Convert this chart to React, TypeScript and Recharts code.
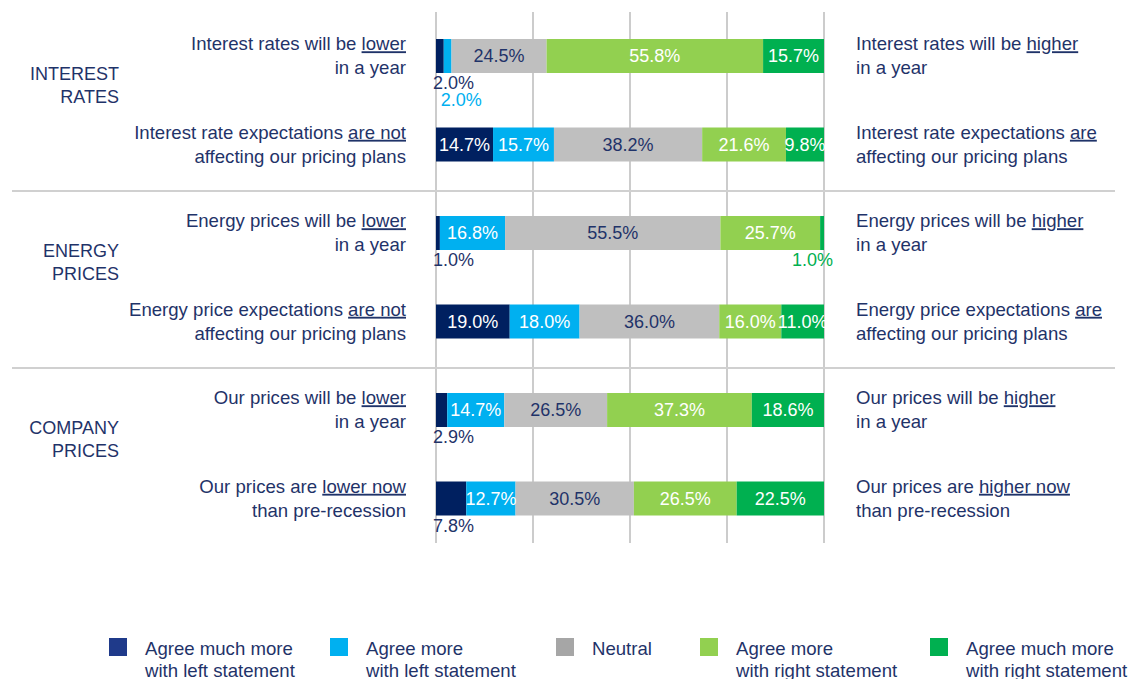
import { Bar, BarChart, CartesianGrid, LabelList, XAxis, YAxis } from "recharts";

const navyText = "#1f3369";

const rowKeys = ["ir1", "ir2", "en1", "en2", "co1", "co2"];
const rowGroup = [0, 0, 1, 1, 2, 2];
const groupNames = [
    ["INTEREST", "RATES"],
    ["ENERGY", "PRICES"],
    ["COMPANY", "PRICES"],
];

const leftLead = [
    "Interest rates will be ",
    "Interest rate expectations ",
    "Energy prices will be ",
    "Energy price expectations ",
    "Our prices will be ",
    "Our prices are ",
];
const leftKey = ["lower", "are not", "lower", "are not", "lower", "lower now"];
const rightKey = ["higher", "are", "higher", "are", "higher", "higher now"];
const statementTail = [
    "in a year",
    "affecting our pricing plans",
    "in a year",
    "affecting our pricing plans",
    "in a year",
    "than pre-recession",
];

// shares of respondents, %
const muchLeft = [2.0, 14.7, 1.0, 19.0, 2.9, 7.8];
const moreLeft = [2.0, 15.7, 16.8, 18.0, 14.7, 12.7];
const neutral = [24.5, 38.2, 55.5, 36.0, 26.5, 30.5];
const moreRight = [55.8, 21.6, 25.7, 16.0, 37.3, 26.5];
const muchRight = [15.7, 9.8, 1.0, 11.0, 18.6, 22.5];

const seriesKeys = ["muchLeft", "moreLeft", "neutral", "moreRight", "muchRight"];
const seriesNames = [
    ["Agree much more", "with left statement"],
    ["Agree more", "with left statement"],
    ["Neutral"],
    ["Agree more", "with right statement"],
    ["Agree much more", "with right statement"],
];
const seriesColors = ["#002060", "#00b0f0", "#bfbfbf", "#92d050", "#00b050"];
const swatchColors = ["#1f3a8a", "#00b0f0", "#a6a6a6", "#92d050", "#00b050"];
const insideText = ["#ffffff", "#ffffff", navyText, "#ffffff", "#ffffff"];
const outsideText = [navyText, "#00b0f0", navyText, "#92d050", "#00b050"];
const legendLeft = [109, 330, 556, 700, 930];

const tableRows = rowKeys.map((key, i) => ({
    key,
    muchLeft: muchLeft[i],
    moreLeft: moreLeft[i],
    neutral: neutral[i],
    moreRight: moreRight[i],
    muchRight: muchRight[i],
}));
const seriesValues = [muchLeft, moreLeft, neutral, moreRight, muchRight];

const W = 1131;
const H = 679;
const M = { top: 12, right: 6, bottom: 136, left: 6 };
const band = (H - M.top - M.bottom) / rowKeys.length;
const FS = 18;
const FS_TEXT = 18.6;
const SMALL = 9;
const font = "Liberation Sans, Arial, sans-serif";

const LeftTick = (props: any) => {
    const { x, y, index } = props;
    const i = index as number;
    const g = rowGroup[i];
    const firstOfGroup = i === 0 || rowGroup[i - 1] !== g;
    const groupMid = y + band / 2 - 15;
    return (
        <g fontFamily={font} fontSize={FS_TEXT} fill={navyText}>
            {firstOfGroup && i > 0 && (
                <line x1={12} x2={1115} y1={y - band / 2 + 2} y2={y - band / 2 + 2} stroke="#d0d0d0" strokeWidth={2} />
            )}
            {firstOfGroup &&
                groupNames[g].map((line, k) => (
                    <text key={line} x={119} y={groupMid - 6 + k * 23} textAnchor="end" fontSize={FS}>
                        {line}
                    </text>
                ))}
            <text x={x} y={y - 6} textAnchor="end">
                {leftLead[i]}
                <tspan style={{ textDecoration: "underline" }}>{leftKey[i]}</tspan>
            </text>
            <text x={x} y={y + 18} textAnchor="end">
                {statementTail[i]}
            </text>
        </g>
    );
};

const RightTick = (props: any) => {
    const { x, y, index } = props;
    const i = index as number;
    return (
        <g fontFamily={font} fontSize={FS_TEXT} fill={navyText}>
            <text x={x} y={y - 6} textAnchor="start">
                {leftLead[i]}
                <tspan style={{ textDecoration: "underline" }}>{rightKey[i]}</tspan>
            </text>
            <text x={x} y={y + 18} textAnchor="start">
                {statementTail[i]}
            </text>
        </g>
    );
};

const makeLabel = (s: number) => (props: any) => {
    const x = Number(props.x);
    const y = Number(props.y);
    const width = Number(props.width);
    const height = Number(props.height);
    const value = Number(props.value);
    const i = props.index as number;
    const text = `${value.toFixed(1)}%`;
    if (value >= SMALL) {
        return (
            <text
                x={x + width / 2}
                y={y + height / 2}
                textAnchor="middle"
                dominantBaseline="central"
                fill={insideText[s]}
                fontSize={FS}
                fontFamily={font}
            >
                {text}
            </text>
        );
    }
    // a small neighbour to the left already sits under the bar: drop one line
    const stacked = s > 0 && seriesValues[s - 1][i] < SMALL ? 1 : 0;
    const last = s === seriesKeys.length - 1;
    return (
        <text
            x={last ? x + width + 9 : x - 3}
            y={y + height + 10 + stacked * 17}
            textAnchor={last ? "end" : "start"}
            dominantBaseline="central"
            fill={outsideText[s]}
            fontSize={FS}
            fontFamily={font}
        >
            {text}
        </text>
    );
};

export default function App() {
    return (
        <div style={{ position: "absolute", left: 0, top: 0, width: W, height: H, background: "#fff", overflow: "hidden" }}>
            <BarChart width={W} height={H} data={tableRows} layout="vertical" margin={M} barSize={34}>
                <CartesianGrid horizontal={false} stroke="#cccccc" strokeWidth={2} />
                <XAxis type="number" domain={[0, 100]} ticks={[0, 25, 50, 75, 100]} hide />
                <YAxis
                    yAxisId="left"
                    type="category"
                    dataKey="key"
                    width={430}
                    axisLine={false}
                    tickLine={false}
                    tickSize={0}
                    tickMargin={30}
                    interval={0}
                    tick={<LeftTick />}
                />
                <YAxis
                    yAxisId="right"
                    orientation="right"
                    type="category"
                    dataKey="key"
                    width={301}
                    axisLine={false}
                    tickLine={false}
                    tickSize={0}
                    tickMargin={32}
                    interval={0}
                    tick={<RightTick />}
                />
                {seriesKeys.map((key, s) => (
                    <Bar key={key} dataKey={key} stackId="a" yAxisId="left" fill={seriesColors[s]} isAnimationActive={false}>
                        <LabelList dataKey={key} content={makeLabel(s)} />
                    </Bar>
                ))}
            </BarChart>
            {seriesNames.map((lines, s) => (
                <div
                    key={s}
                    style={{
                        position: "absolute",
                        left: legendLeft[s],
                        top: 638,
                        display: "flex",
                        fontFamily: font,
                        fontSize: FS_TEXT,
                        color: navyText,
                    }}
                >
                    <div style={{ width: 18, height: 18, background: swatchColors[s], marginRight: 18 }} />
                    <div style={{ lineHeight: "22px", marginTop: 0 }}>
                        {lines.map((l) => (
                            <div key={l} style={{ whiteSpace: "nowrap" }}>
                                {l}
                            </div>
                        ))}
                    </div>
                </div>
            ))}
        </div>
    );
}
